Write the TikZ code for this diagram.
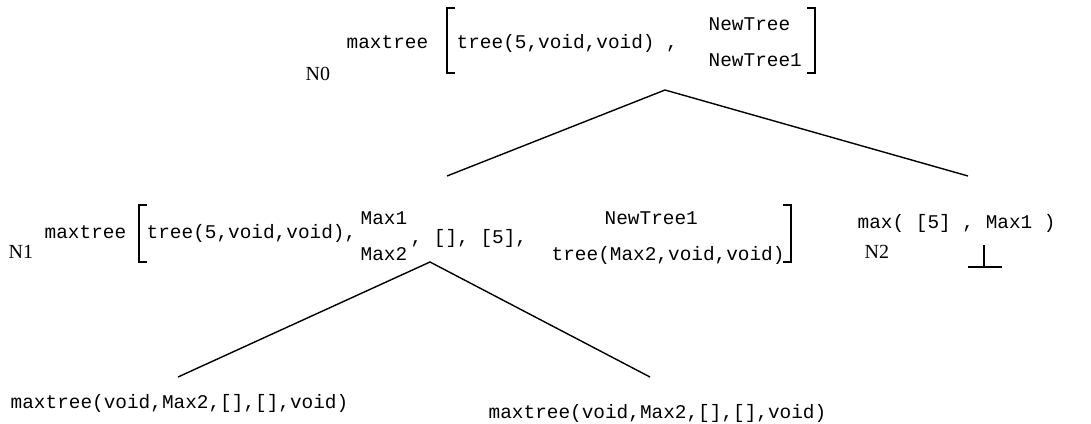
\documentclass[tikz,border=0pt]{standalone}
\usepackage{fontspec}
\setmainfont{Liberation Serif}
\setmonofont{Liberation Mono}
\usetikzlibrary{positioning}

\begin{document}
\begin{tikzpicture}[x=0.5pt,y=-0.5pt,line width=0.7pt,
        code/.style={inner sep=0pt,anchor=base west,font=\fontsize{9.7}{11}\ttfamily},
        tag/.style={inner sep=0pt,anchor=base west,font=\fontsize{10}{12}\selectfont},
        brk/.style={line width=1pt}]
        \useasboundingbox (0,0) rectangle (1091,423);

        % goal N0
        \node[tag] (n0) at (305,80) {N0};
        \node[code] (mt0) at (346,48) {maxtree};
        \node[code] (a0) at (456,48) {tree(5,void,void) ,};
        \node[code] (b0) at (708,30) {NewTree};
        \node[code] (c0) at (708,66) {NewTree1};
        \draw[brk] (455,8) -- (447,8) -- (447,73) -- (455,73);
        \draw[brk] (807,8) -- (815,8) -- (815,73) -- (807,73);

        % goal N1
        \node[tag] (n1) at (8,258) {N1};
        \node[code] (mt1) at (44,238) {maxtree};
        \node[code] (a1) at (146,238) {tree(5,void,void),};
        \node[code] (b1) at (360,224) {Max1};
        \node[code] (c1) at (360,260) {Max2};
        \node[code] (d1) at (410,243) {, [], [5],};
        \node[code] (e1) at (604,224) {NewTree1};
        \node[code] (f1) at (551,260) {tree(Max2,void,void)};
        \draw[brk] (147,205) -- (139,205) -- (139,262) -- (147,262);
        \draw[brk] (783,205) -- (791,205) -- (791,262) -- (783,262);

        % goal N2
        \node[tag] (n2) at (864,258) {N2};
        \node[code] (mx2) at (857,228) {max( [5] , Max1 )};
        \coordinate (f2) at (984,267);
        \draw[brk] (f2) -- ++(0,-22) (f2) -- ++(-16,0) -- ++(34,0);

        % leaves
        \node[code] (l1) at (10,408) {maxtree(void,Max2,[],[],void)};
        \node[code] (l2) at (488,418) {maxtree(void,Max2,[],[],void)};

        % branches
        \coordinate (t0) at (665,90);
        \coordinate (t0l) at (447,176);
        \coordinate (t0r) at (968,176);
        \coordinate (t1) at (430,262);
        \coordinate (t1l) at (178,377);
        \coordinate (t1r) at (650,377);
        \draw (t0l) -- (t0) -- (t0r);
        \draw (t1l) -- (t1) -- (t1r);
\end{tikzpicture}
\end{document}
